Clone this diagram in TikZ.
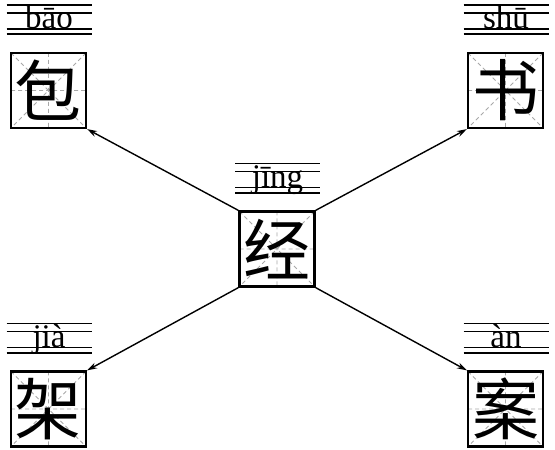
\documentclass[tikz,border=0pt]{standalone}
\usepackage{fontspec}
\setmainfont{Liberation Serif}
\newfontfamily\cjk{Noto Sans CJK SC}
\usetikzlibrary{arrows.meta,calc}
\definecolor{ink}{HTML}{000000}
\definecolor{guide}{HTML}{A8A8A8}
% four pinyin lines above a box, text sitting on the third line
\newcommand{\pygrid}[3]{%
  \draw[pyline] ($(#1.north)+(-42,47)$) -- ++(85,0);
  \draw[pyline] ($(#1.north)+(-42,39)$) -- ++(85,0);
  \draw[pyline] ($(#1.north)+(-42,23)$) -- ++(85,0);
  \draw[pyline, line width=2.2pt] ($(#1.north)+(-42,17.5)$) -- ++(85,0);
  \node[pytext] (#2) at ($(#1.north)+(0.5,23)$) {#3};}

\begin{document}
\begin{tikzpicture}[x=1pt, y=1pt,
      pyline/.style={draw=ink, line width=1.3pt},
      pytext/.style={anchor=base, inner sep=0pt, font=\fontsize{33pt}{33pt}\selectfont},
      zi/.style={draw=ink, line width=2.2pt, minimum size=75pt, inner sep=0pt,
        font=\cjk\fontsize{67pt}{67pt}\selectfont,
        path picture={
          \draw[guide, dashed, line width=0.8pt, dash pattern=on 4pt off 3pt]
            (path picture bounding box.north) -- (path picture bounding box.south)
            (path picture bounding box.west) -- (path picture bounding box.east)
            (path picture bounding box.north west) -- (path picture bounding box.south east)
            (path picture bounding box.north east) -- (path picture bounding box.south west);}},
      >={Stealth[length=10pt, width=6pt]}]
    \useasboundingbox (0,0) rectangle (555,450);
    \node[zi] (jing) at (277,201) {经};
    \node[zi] (bao) at (48.5,359.5) {包};
    \node[zi] (shu) at (505.5,359.5) {书};
    \node[zi] (jia) at (48.5,41) {架};
    \node[zi] (an) at (505.5,41) {案};
    \pygrid{jing}{py-jing}{jīng}
    \pygrid{bao}{py-bao}{bāo}
    \pygrid{shu}{py-shu}{shū}
    \pygrid{jia}{py-jia}{jià}
    \pygrid{an}{py-an}{àn}
    \draw[->, line width=1.4pt] (jing.north west) -- (bao.south east);
    \draw[->, line width=1.4pt] (jing.north east) -- (shu.south west);
    \draw[->, line width=1.4pt] (jing.south west) -- (jia.north east);
    \draw[->, line width=1.4pt] (jing.south east) -- (an.north west);
  \end{tikzpicture}
\end{document}
